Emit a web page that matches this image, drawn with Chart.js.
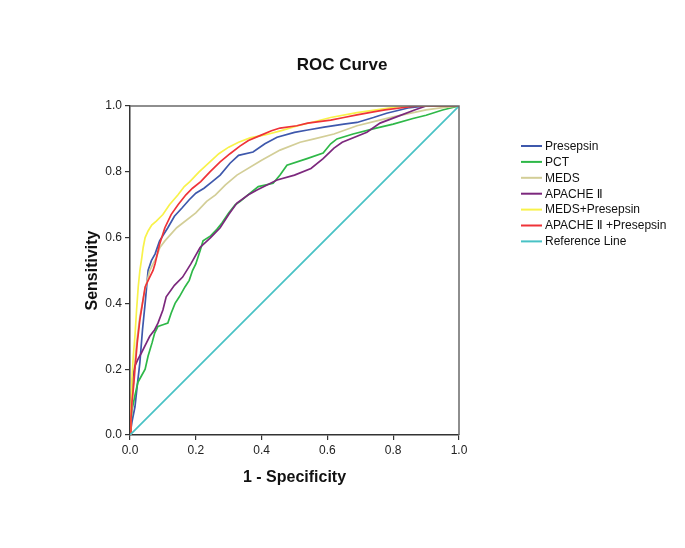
<!DOCTYPE html>
<html>
<head>
<meta charset="utf-8">
<script src="https://cdn.jsdelivr.net/npm/chart.js@4.4.1/dist/chart.umd.min.js"></script>
<style>
  html, body { margin: 0; padding: 0; background: #fff; }
  #wrap { width: 685px; height: 548px; position: relative; }
</style>
</head>
<body>
<div id="wrap"><canvas id="c" width="685" height="548"></canvas></div>
<script>
// ---- Data ----
const seriesNames = ['Presepsin', 'PCT', 'MEDS', 'APACHE Ⅱ', 'MEDS+Presepsin', 'APACHE Ⅱ +Presepsin', 'Reference Line'];
const seriesColors = ['#3E58AC', '#2EB848', '#D3CE97', '#7C287D', '#F8F24A', '#EF3338', '#48C2C5'];
const tickValues = [0, 0.2, 0.4, 0.6, 0.8, 1.0];

const presepsin = [[0,0],[0.006,0.04],[0.015,0.085],[0.022,0.15],[0.03,0.22],[0.038,0.32],[0.046,0.40],[0.055,0.50],[0.065,0.53],[0.076,0.55],[0.09,0.59],[0.115,0.63],[0.135,0.665],[0.158,0.69],[0.18,0.715],[0.2,0.735],[0.225,0.75],[0.25,0.77],[0.274,0.79],[0.304,0.826],[0.33,0.85],[0.374,0.86],[0.41,0.885],[0.447,0.905],[0.5,0.92],[0.54,0.927],[0.59,0.936],[0.65,0.945],[0.69,0.95],[0.74,0.965],[0.78,0.978],[0.845,0.994],[0.9,1],[1,1]];
const pct = [[0,0],[0.003,0.04],[0.006,0.076],[0.015,0.12],[0.024,0.16],[0.035,0.18],[0.046,0.20],[0.055,0.24],[0.067,0.28],[0.075,0.31],[0.085,0.33],[0.1,0.335],[0.115,0.34],[0.125,0.37],[0.137,0.40],[0.15,0.42],[0.167,0.45],[0.18,0.47],[0.19,0.50],[0.2,0.52],[0.213,0.56],[0.222,0.59],[0.245,0.605],[0.264,0.625],[0.28,0.645],[0.30,0.675],[0.32,0.70],[0.335,0.71],[0.365,0.735],[0.39,0.755],[0.435,0.765],[0.456,0.79],[0.477,0.82],[0.538,0.84],[0.587,0.857],[0.61,0.885],[0.629,0.90],[0.678,0.915],[0.745,0.932],[0.8,0.945],[0.86,0.962],[0.9,0.972],[0.95,0.988],[1,1]];
const meds = [[0,0],[0.005,0.08],[0.01,0.16],[0.02,0.28],[0.03,0.36],[0.045,0.44],[0.06,0.50],[0.08,0.54],[0.091,0.57],[0.106,0.59],[0.142,0.63],[0.2,0.675],[0.233,0.71],[0.26,0.73],[0.29,0.76],[0.325,0.79],[0.4,0.835],[0.456,0.866],[0.517,0.89],[0.56,0.90],[0.62,0.915],[0.69,0.94],[0.75,0.955],[0.80,0.967],[0.90,0.988],[0.95,0.995],[1,1]];
const apache = [[0,0],[0,0.05],[0.003,0.1],[0.009,0.18],[0.015,0.21],[0.024,0.23],[0.035,0.25],[0.05,0.28],[0.06,0.30],[0.075,0.32],[0.085,0.34],[0.1,0.38],[0.11,0.42],[0.135,0.455],[0.16,0.48],[0.185,0.52],[0.213,0.57],[0.245,0.60],[0.274,0.63],[0.30,0.67],[0.325,0.705],[0.36,0.73],[0.386,0.745],[0.447,0.775],[0.5,0.79],[0.55,0.81],[0.587,0.84],[0.62,0.872],[0.645,0.89],[0.72,0.92],[0.76,0.948],[0.81,0.967],[0.865,0.988],[0.9,1],[1,1]];
const medsPresepsin = [[0,0],[0.003,0.08],[0.006,0.17],[0.01,0.24],[0.015,0.30],[0.02,0.38],[0.025,0.45],[0.03,0.50],[0.036,0.54],[0.04,0.57],[0.046,0.60],[0.055,0.62],[0.066,0.638],[0.08,0.65],[0.1,0.67],[0.12,0.70],[0.146,0.73],[0.165,0.755],[0.182,0.77],[0.21,0.80],[0.243,0.83],[0.27,0.855],[0.30,0.875],[0.33,0.89],[0.365,0.903],[0.41,0.912],[0.46,0.925],[0.51,0.94],[0.56,0.952],[0.61,0.965],[0.69,0.98],[0.76,0.99],[0.83,1],[1,1]];
const apachePresepsin = [[0,0],[0.003,0.05],[0.006,0.1],[0.012,0.16],[0.015,0.2],[0.022,0.28],[0.03,0.35],[0.038,0.40],[0.046,0.45],[0.06,0.48],[0.07,0.50],[0.076,0.52],[0.09,0.58],[0.106,0.63],[0.125,0.67],[0.146,0.70],[0.17,0.73],[0.19,0.75],[0.215,0.77],[0.243,0.80],[0.274,0.83],[0.304,0.855],[0.334,0.878],[0.36,0.895],[0.395,0.91],[0.43,0.925],[0.456,0.933],[0.507,0.94],[0.54,0.948],[0.61,0.957],[0.65,0.965],[0.69,0.973],[0.74,0.982],[0.775,0.988],[0.845,0.997],[0.88,1],[1,1]];
const referenceLine = [[0,0],[1,1]];

const seriesData = [presepsin, pct, meds, apache, medsPresepsin, apachePresepsin, referenceLine];

const FONT = "'Liberation Sans', Arial, 'DejaVu Sans', 'Noto Sans CJK SC', sans-serif";

const datasets = seriesData.map((arr, i) => ({
  label: seriesNames[i],
  data: arr.map(p => ({x: p[0], y: p[1]})),
  borderColor: seriesColors[i],
  backgroundColor: seriesColors[i],
  borderWidth: 1.7,
  pointRadius: 0,
  showLine: true,
  tension: 0,
  fill: false,
  order: seriesData.length - 1 - i
}));

const decorPlugin = {
  id: 'decor',
  afterDraw(chart) {
    const ctx = chart.ctx;
    const a = chart.chartArea;
    ctx.save();
    // frame top & right
    ctx.strokeStyle = '#6a6a6a';
    ctx.lineWidth = 1.5;
    ctx.beginPath();
    ctx.moveTo(a.left, a.top);
    ctx.lineTo(a.right, a.top);
    ctx.lineTo(a.right, a.bottom);
    ctx.stroke();
    // title
    ctx.fillStyle = '#111';
    ctx.font = "bold 17px " + FONT;
    ctx.textAlign = 'center';
    ctx.textBaseline = 'middle';
    ctx.fillText('ROC Curve', 342, 65);
    // legend
    ctx.font = "12px " + FONT;
    ctx.textAlign = 'left';
    for (let i = 0; i < seriesNames.length; i++) {
      const y = 146 + i * 15.9;
      ctx.strokeStyle = seriesColors[i];
      ctx.lineWidth = 2;
      ctx.beginPath();
      ctx.moveTo(521, y);
      ctx.lineTo(542, y);
      ctx.stroke();
      ctx.fillStyle = '#111';
      ctx.fillText(seriesNames[i], 545, y + 0.5);
    }
    ctx.restore();
  }
};

new Chart(document.getElementById('c'), {
  type: 'scatter',
  data: { datasets },
  options: {
    responsive: false,
    animation: false,
    layout: { padding: { left: 80, top: 106, right: 226, bottom: 53 } },
    plugins: { legend: { display: false }, tooltip: { enabled: false }, title: { display: false } },
    scales: {
      x: {
        type: 'linear', min: 0, max: 1,
        afterFit(s) { s.height = 60; },
        afterBuildTicks(s) { s.ticks = tickValues.map(v => ({value: v})); },
        ticks: { callback: v => Number(v).toFixed(1), color: '#222', font: { size: 12, family: FONT }, padding: 3, maxRotation: 0 },
        grid: { display: true, drawOnChartArea: false, drawTicks: true, tickLength: 5, color: '#333', lineWidth: 1.2 },
        border: { display: true, color: '#333', width: 1.5 },
        title: { display: true, text: '1 - Specificity', color: '#111', font: { size: 16, weight: 'bold', family: FONT }, padding: { top: 0, bottom: 8 } }
      },
      y: {
        type: 'linear', min: 0, max: 1,
        afterFit(s) { s.width = 50; },
        afterBuildTicks(s) { s.ticks = tickValues.map(v => ({value: v})); },
        ticks: { callback: v => Number(v).toFixed(1), color: '#222', font: { size: 12, family: FONT }, padding: 3 },
        grid: { display: true, drawOnChartArea: false, drawTicks: true, tickLength: 5, color: '#333', lineWidth: 1.2 },
        border: { display: true, color: '#333', width: 1.5 },
        title: { display: true, text: 'Sensitivity', color: '#111', font: { size: 16, weight: 'bold', family: FONT }, padding: { top: 3, bottom: 0 } }
      }
    }
  },
  plugins: [decorPlugin]
});
</script>
</body>
</html>
